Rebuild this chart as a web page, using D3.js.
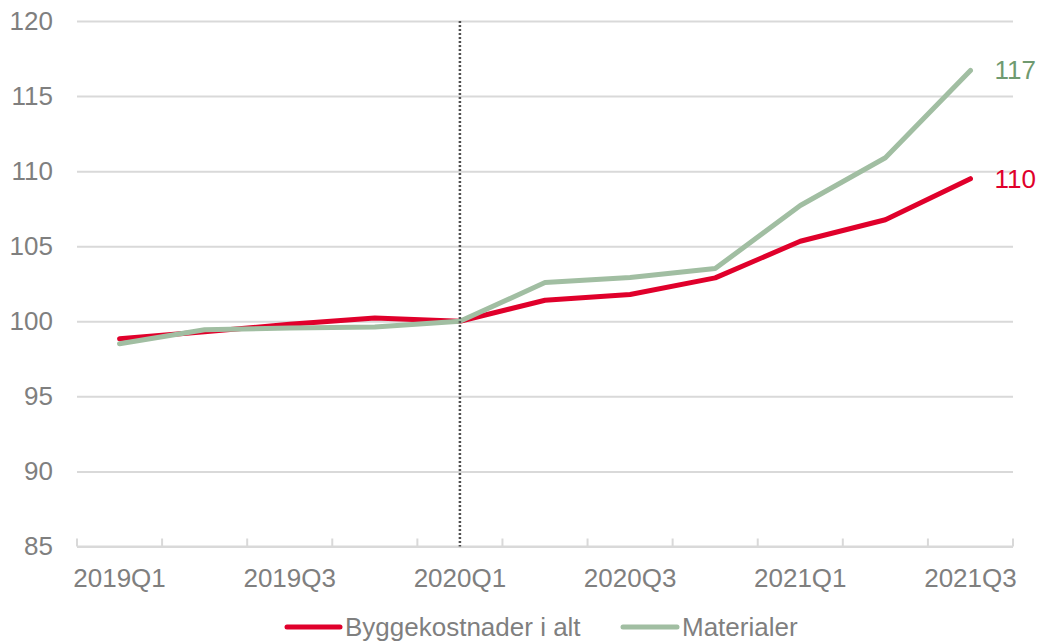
<!DOCTYPE html>
<html>
<head>
<meta charset="utf-8">
<script src="https://cdn.jsdelivr.net/npm/d3@7"></script>
<style>
  html, body { margin: 0; padding: 0; background: #fff; }
  svg { display: block; font-family: "Liberation Sans", Arial, sans-serif; }
</style>
</head>
<body>
<svg id="chart" width="1048" height="641"></svg>
<script>
// Quarterly index, 2020Q1 = 100
const quarters = ["2019Q1","2019Q2","2019Q3","2019Q4","2020Q1","2020Q2","2020Q3","2020Q4","2021Q1","2021Q2","2021Q3"];
const byggekostnader = [98.83, 99.3, 99.8, 100.22, 100, 101.4, 101.78, 102.89, 105.33, 106.76, 109.5];
const materialer = [98.5, 99.44, 99.55, 99.62, 100, 102.58, 102.91, 103.51, 107.71, 110.89, 116.71];
const yTicks = [85, 90, 95, 100, 105, 110, 115, 120];
const xLabels = ["2019Q1","2019Q3","2020Q1","2020Q3","2021Q1","2021Q3"];
const markerQuarter = "2020Q1";

const series = [
  { name: "Byggekostnader i alt", values: byggekostnader, color: "#e0002b", label: "#e0002b" },
  { name: "Materialer", values: materialer, color: "#a1bea2", label: "#6f9a70" }
];

const svg = d3.select("#chart");
const plotLeft = 77, plotRight = 1013, plotTop = 21, plotBottom = 546.5;
const textColor = "#7f7f7f";
const gridColor = "#d9d9d9";

const x = d3.scaleBand().domain(quarters).range([plotLeft, plotRight]);
const y = d3.scaleLinear().domain([85, 120]).range([plotBottom, plotTop]);
const cx = q => x(q) + x.bandwidth() / 2;

// Horizontal gridlines and y labels
const yAxis = d3.axisLeft(y).tickValues(yTicks).tickSize(-(plotRight - plotLeft)).tickPadding(24).tickFormat(d3.format("d"));
const gy = svg.append("g").attr("transform", `translate(${plotLeft},0)`).call(yAxis);
gy.select(".domain").remove();
gy.selectAll(".tick line").attr("stroke", gridColor).attr("stroke-width", 2);
gy.selectAll(".tick text").attr("fill", textColor).attr("font-size", 26)
  .attr("font-family", "Liberation Sans, Arial, sans-serif");

// x axis with inward tick marks at category boundaries
svg.append("line").attr("x1", plotLeft).attr("x2", plotRight).attr("y1", plotBottom).attr("y2", plotBottom)
  .attr("stroke", gridColor).attr("stroke-width", 2);
const bounds = quarters.map(q => x(q)).concat([plotRight]);
svg.append("g").selectAll("line").data(bounds).join("line")
  .attr("x1", d => d).attr("x2", d => d).attr("y1", plotBottom).attr("y2", plotBottom - 8)
  .attr("stroke", gridColor).attr("stroke-width", 2);
svg.append("g").selectAll("text").data(xLabels).join("text")
  .attr("x", d => cx(d)).attr("y", 587).attr("text-anchor", "middle")
  .attr("fill", textColor).attr("font-size", 26).text(d => d);

// Series lines (red first, materialer on top)
const line = d3.line().x((d, i) => cx(quarters[i])).y(d => y(d));
series.forEach(s => {
  svg.append("path").datum(s.values).attr("d", line)
    .attr("fill", "none").attr("stroke", s.color).attr("stroke-width", 5)
    .attr("stroke-linejoin", "round").attr("stroke-linecap", "round");
});

// Dotted reference line, above the series
svg.append("line").attr("x1", cx(markerQuarter)).attr("x2", cx(markerQuarter))
  .attr("y1", plotTop).attr("y2", plotBottom)
  .attr("stroke", "#505050").attr("stroke-width", 2.5).attr("stroke-dasharray", "2,2");

// End-value labels
series.forEach(s => {
  const last = s.values[s.values.length - 1];
  svg.append("text").attr("x", cx(quarters[quarters.length - 1]) + 24).attr("y", y(last))
    .attr("dy", "0.35em").attr("fill", s.label).attr("font-size", 26)
    .text(Math.round(last));
});

// Legend
const legend = [
  { s: series[0], x0: 287, x1: 340, tx: 345 },
  { s: series[1], x0: 623, x1: 677, tx: 682 }
];
legend.forEach(l => {
  svg.append("line").attr("x1", l.x0).attr("x2", l.x1).attr("y1", 627).attr("y2", 627)
    .attr("stroke", l.s.color).attr("stroke-width", 5).attr("stroke-linecap", "round");
  svg.append("text").attr("x", l.tx).attr("y", 636).attr("fill", textColor)
    .attr("font-size", 26).text(l.s.name);
});
</script>
</body>
</html>
